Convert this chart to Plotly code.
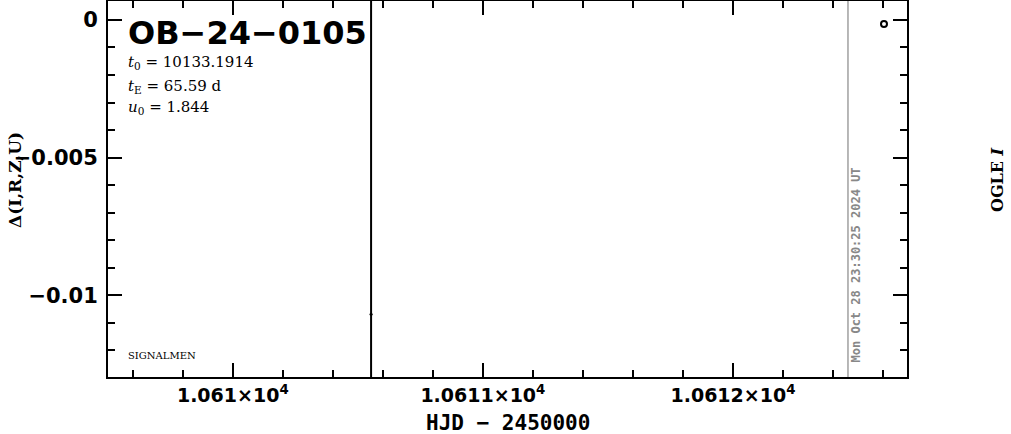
import plotly.graph_objects as go

# ---- data ----
obs_hjd = [10610.553]
obs_dmag = [-0.01069]
obs_err = [0.03]
extra_hjd = [10612.604]
extra_dmag = [-0.000145]
now_hjd = 10612.46
now_label = "Mon Oct 28 23:30:25 2024 UT"

x_tickvals = [10610, 10611, 10612]
x_ticktext = ["1.061×10<sup>4</sup>", "1.0611×10<sup>4</sup>", "1.0612×10<sup>4</sup>"]
y_tickvals = [0, -0.005, -0.01]
y_ticktext = ["0", "−0.005", "−0.01"]

event_name = "OB−24−0105"
params = ["<i>t</i><sub>0</sub> = 10133.1914",
          "<i>t</i><sub>E</sub> = 65.59 d",
          "<i>u</i><sub>0</sub> = 1.844"]
x_title = "HJD − 2450000"
y_title = "Δ(I,R,Z,U)"
right_label = "OGLE <i>I</i>"

x_range = [10609.501, 10612.696]
y_range = [-0.01297, 0.000688]

W, H = 1011, 434
L, R, T, B = 108, 104, 1, 57
pw, ph = W - L - R, H - T - B


def px(xp):
    return (xp - L) / pw


def py(yp):
    return 1 - (yp - T) / ph


fig = go.Figure()
fig.add_trace(go.Scatter(
    x=obs_hjd, y=obs_dmag, mode="markers",
    marker=dict(color="black", size=3),
    error_y=dict(type="data", array=obs_err, color="black", thickness=2, width=0),
    showlegend=False))
fig.add_trace(go.Scatter(
    x=extra_hjd, y=extra_dmag, mode="markers",
    marker=dict(symbol="circle-open", color="black", size=6, line=dict(width=2)),
    showlegend=False))

fig.add_shape(type="line", x0=now_hjd, x1=now_hjd, y0=0, y1=1, yref="paper",
              line=dict(color="#888888", width=1.2))
fig.add_annotation(x=now_hjd, y=py(364), xref="x", yref="paper", text=now_label,
                   textangle=-90, showarrow=False, xanchor="left", yanchor="bottom",
                   xshift=-1,
                   font=dict(family="DejaVu Sans Mono", size=12, color="#888888",
                             weight="bold"))

fig.add_annotation(x=px(126), y=py(33), xref="paper", yref="paper", text=event_name,
                   showarrow=False, xanchor="left", yanchor="middle",
                   font=dict(family="DejaVu Sans", size=32, color="black",
                             weight="bold"))
for yy, p in zip([63, 86, 108], params):
    fig.add_annotation(x=px(126), y=py(yy), xref="paper", yref="paper", text=p,
                       showarrow=False, xanchor="left", yanchor="middle",
                       font=dict(family="DejaVu Serif", size=15, color="black"))
fig.add_annotation(x=px(126), y=py(355), xref="paper", yref="paper", text="SIGNALMEN",
                   showarrow=False, xanchor="left", yanchor="middle",
                   font=dict(family="DejaVu Serif", size=10, color="black"))
fig.add_annotation(x=px(997), y=py(180), xref="paper", yref="paper", text=right_label,
                   textangle=-90, showarrow=False, xanchor="center", yanchor="middle",
                   font=dict(family="DejaVu Serif", size=16, color="black",
                             weight="bold"))
fig.add_annotation(x=px(508), y=py(423), xref="paper", yref="paper", text=x_title,
                   showarrow=False, xanchor="center", yanchor="middle",
                   font=dict(family="DejaVu Sans Mono", size=21, color="black",
                             weight="bold"))
fig.add_annotation(x=px(15), y=py(180), xref="paper", yref="paper", text=y_title,
                   textangle=-90, showarrow=False, xanchor="center", yanchor="middle",
                   font=dict(family="DejaVu Serif", size=17, color="black",
                             weight="bold"))

axis_common = dict(showgrid=False, zeroline=False, showline=True, linecolor="black",
                   linewidth=2, mirror="ticks", ticks="inside", tickcolor="black",
                   tickwidth=2, ticklen=14, automargin=False)

fig.update_xaxes(range=x_range, tickvals=x_tickvals, ticktext=x_ticktext,
                 tickfont=dict(family="DejaVu Sans", size=19, color="black",
                               weight="bold"),
                 minor=dict(dtick=0.2, tick0=10610, ticks="inside", ticklen=7,
                            tickwidth=2, tickcolor="black", showgrid=False),
                 **axis_common)
fig.update_yaxes(range=y_range, tickvals=y_tickvals, ticktext=y_ticktext,
                 ticklabelstandoff=4,
                 tickfont=dict(family="DejaVu Sans", size=21, color="black",
                               weight="bold"),
                 minor=dict(dtick=0.001, tick0=0, ticks="inside", ticklen=7,
                            tickwidth=2, tickcolor="black", showgrid=False),
                 **axis_common)

fig.update_layout(width=W, height=H, margin=dict(l=L, r=R, t=T, b=B),
                  plot_bgcolor="white", paper_bgcolor="white", showlegend=False)

fig.write_html("out.html", config={"displayModeBar": False},
               post_script="document.body.style.margin='0';"
                           "document.body.style.overflow='hidden';")
